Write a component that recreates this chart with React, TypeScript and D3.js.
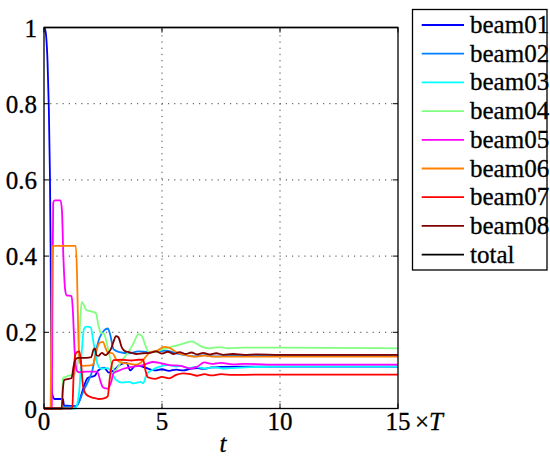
import React from "react";
import * as d3 from "d3";

type P = [number, number];

const seriesNames = ["beam01", "beam02", "beam03", "beam04", "beam05", "beam06", "beam07", "beam08", "total"];
const seriesColors = ["#0000ff", "#0080ff", "#00ffff", "#80ff80", "#ff00ff", "#ff8000", "#ff0000", "#800000", "#000000"];

const xTicks = [0, 5, 10, 15];
const yTicks = [0, 0.2, 0.4, 0.6, 0.8, 1];
const yTickLabels = ["0", "0.2", "0.4", "0.6", "0.8", "1"];

const beam01: P[] = [[0,1],[0.05,0.995],[0.1,0.97],[0.15,0.91],[0.2,0.8],[0.25,0.62],[0.28,0.42],[0.3,0.2],[0.32,0.07],[0.36,0.035],[0.45,0.025],[0.8,0.025],[0.85,0.008],[1.35,0.006],[1.5,0.02],[1.65,0.05],[1.85,0.08],[2.15,0.086],[2.3,0.1],[2.55,0.107],[2.75,0.094],[2.95,0.1],[3.2,0.114],[3.5,0.12],[3.65,0.1],[3.9,0.114],[4.3,0.107],[4.7,0.1],[5.0,0.103],[5.3,0.099],[5.6,0.102],[5.9,0.1],[6.2,0.104],[6.5,0.106],[6.8,0.104],[7.1,0.108],[7.5,0.109],[8.5,0.11],[10,0.11],[12,0.11],[15,0.11]];
const beam02: P[] = [[0,0],[0.8,0],[0.85,0.005],[1.35,0.005],[1.5,0.02],[1.7,0.05],[1.9,0.075],[2.05,0.1],[2.2,0.15],[2.35,0.185],[2.55,0.205],[2.7,0.21],[2.8,0.195],[2.95,0.155],[3.2,0.148],[3.6,0.145],[4.0,0.15],[4.4,0.148],[4.8,0.15],[5.2,0.152],[5.6,0.145],[6,0.14],[6.4,0.137],[6.8,0.14],[7.2,0.137],[8,0.138],[10,0.138],[15,0.138]];
const beam03: P[] = [[0,0],[1.3,0],[1.4,0.01],[1.5,0.05],[1.6,0.15],[1.7,0.21],[1.8,0.215],[1.98,0.213],[2.08,0.18],[2.16,0.15],[2.25,0.12],[2.4,0.105],[2.7,0.106],[2.9,0.09],[3.05,0.075],[3.3,0.068],[3.6,0.07],[3.8,0.066],[4.1,0.07],[4.2,0.066],[4.35,0.09],[4.55,0.1],[4.9,0.11],[5.3,0.114],[5.6,0.11],[5.8,0.112],[6.1,0.106],[6.4,0.109],[6.8,0.105],[7.2,0.108],[7.6,0.105],[8.5,0.108],[10,0.11],[15,0.11]];
const beam04: P[] = [[0,0],[0.75,0],[0.8,0.08],[1.0,0.085],[1.3,0.09],[1.45,0.13],[1.55,0.25],[1.6,0.28],[1.7,0.27],[1.8,0.258],[2.0,0.255],[2.2,0.25],[2.3,0.22],[2.4,0.2],[2.55,0.195],[2.7,0.16],[2.85,0.12],[3.0,0.098],[3.15,0.11],[3.35,0.13],[3.6,0.15],[3.8,0.172],[4.0,0.195],[4.15,0.19],[4.3,0.165],[4.45,0.148],[4.7,0.148],[5.0,0.155],[5.3,0.16],[5.8,0.168],[6.25,0.176],[6.7,0.162],[7.0,0.158],[7.4,0.161],[7.8,0.158],[8.5,0.16],[10,0.16],[15,0.158]];
const beam05: P[] = [[0,0],[0.33,0],[0.36,0.3],[0.39,0.54],[0.45,0.546],[0.7,0.546],[0.76,0.52],[0.82,0.4],[0.9,0.31],[0.96,0.297],[1.17,0.295],[1.22,0.26],[1.3,0.15],[1.38,0.1],[1.5,0.095],[1.8,0.097],[2.25,0.097],[2.4,0.07],[2.5,0.055],[2.7,0.052],[2.85,0.07],[2.95,0.093],[3.2,0.1],[3.4,0.105],[3.8,0.11],[4.2,0.114],[4.6,0.122],[4.9,0.12],[5.3,0.114],[5.8,0.112],[6.2,0.105],[6.5,0.11],[6.8,0.121],[7.1,0.117],[7.5,0.12],[8.0,0.116],[8.5,0.117],[10,0.115],[15,0.115]];
const beam06: P[] = [[0,0],[0.28,0],[0.31,0.2],[0.34,0.41],[0.38,0.427],[1.35,0.427],[1.4,0.35],[1.45,0.2],[1.52,0.12],[1.65,0.112],[2.0,0.113],[2.1,0.118],[2.2,0.145],[2.35,0.172],[2.5,0.175],[2.6,0.16],[2.7,0.147],[2.9,0.145],[3.05,0.13],[3.3,0.12],[3.6,0.118],[3.9,0.115],[4.1,0.12],[4.3,0.135],[4.5,0.148],[4.8,0.152],[5.1,0.162],[5.3,0.16],[5.6,0.148],[6.0,0.14],[6.4,0.136],[6.8,0.139],[7.2,0.136],[8.5,0.136],[10,0.136],[15,0.136]];
const beam07: P[] = [[0,0],[1.2,0],[1.25,0.08],[1.32,0.14],[1.4,0.148],[1.5,0.15],[1.57,0.12],[1.65,0.06],[1.75,0.04],[1.9,0.032],[2.1,0.028],[2.3,0.025],[2.5,0.026],[2.7,0.032],[2.78,0.075],[2.87,0.115],[2.95,0.127],[3.3,0.128],[3.7,0.126],[4.0,0.128],[4.2,0.128],[4.3,0.1],[4.4,0.082],[4.7,0.078],[5.0,0.083],[5.3,0.079],[5.6,0.088],[5.9,0.092],[6.2,0.09],[6.5,0.086],[6.8,0.09],[7.1,0.087],[7.5,0.09],[8,0.088],[9,0.089],[10,0.089],[15,0.089]];
const beam08: P[] = [[0,0],[0.75,0],[0.8,0.05],[0.86,0.075],[1.0,0.077],[1.17,0.08],[1.25,0.11],[1.35,0.13],[1.45,0.133],[1.8,0.133],[2.0,0.135],[2.1,0.155],[2.16,0.158],[2.22,0.14],[2.3,0.138],[2.45,0.146],[2.6,0.14],[2.75,0.148],[2.85,0.158],[2.95,0.176],[3.05,0.19],[3.15,0.187],[3.3,0.16],[3.45,0.15],[3.6,0.148],[3.9,0.143],[4.2,0.145],[4.5,0.146],[4.75,0.15],[5.0,0.144],[5.25,0.149],[5.5,0.143],[5.75,0.148],[6.0,0.143],[6.25,0.147],[6.5,0.142],[6.75,0.146],[7.0,0.142],[7.3,0.145],[7.6,0.141],[8.0,0.143],[8.5,0.141],[9,0.142],[10,0.141],[15,0.141]];
const total: P[] = [[0,1],[15,1]];

const allSeries = [beam01, beam02, beam03, beam04, beam05, beam06, beam07, beam08, total];

export default function App() {
  const W = 550, H = 458;
  const x = d3.scaleLinear().domain([0, 15]).range([44, 398]);
  const y = d3.scaleLinear().domain([0, 1]).range([408.5, 27.5]);
  const line = d3.line<P>().x(d => x(d[0])).y(d => y(d[1])).curve(d3.curveMonotoneX);
  const tf: React.CSSProperties = { fontFamily: "Liberation Serif, Times New Roman, serif", fontSize: "25px" };
  const [x0, x1] = x.range();
  const [y0, y1] = y.range();
  const tl = 5;
  const legX = 412.5, legY = 9.5, legW = 134.5, legH = 260.5;
  const rowH = 28.7;
  const ts = { fill: "#000", stroke: "#000", strokeWidth: 0.3 };
  return (
    <div style={{ position: "fixed", left: 0, top: 0 }}>
      <svg width={W} height={H} style={{ display: "block", background: "#fff" }}>
        {xTicks.filter(t => t > 0 && t < 15).map(t => (
          <line key={"gx" + t} x1={x(t)} x2={x(t)} y1={y0} y2={y1} stroke="#444" strokeWidth={1} strokeDasharray="1.2,5" />
        ))}
        {yTicks.filter(t => t > 0 && t < 1).map(t => (
          <line key={"gy" + t} x1={x0} x2={x1} y1={y(t)} y2={y(t)} stroke="#444" strokeWidth={1} strokeDasharray="1.2,5" />
        ))}
        {allSeries.map((s, i) => (
          <path key={seriesNames[i]} d={line(s) || ""} fill="none" stroke={seriesColors[i]} strokeWidth={i === 8 ? 1.4 : 1.8} strokeLinejoin="round" />
        ))}
        <rect x={x0} y={y1} width={x1 - x0} height={y0 - y1} fill="none" stroke="#000" strokeWidth={1.3} />
        {xTicks.map(t => (
          <g key={"tx" + t}>
            <line x1={x(t)} x2={x(t)} y1={y0} y2={y0 - tl} stroke="#000" strokeWidth={1} />
            <line x1={x(t)} x2={x(t)} y1={y1} y2={y1 + tl} stroke="#000" strokeWidth={1} />
            <text x={x(t)} y={430} textAnchor="middle" style={tf} {...ts}>{t}</text>
          </g>
        ))}
        {yTicks.map((t, i) => (
          <g key={"ty" + t}>
            <line x1={x0} x2={x0 + tl} y1={y(t)} y2={y(t)} stroke="#000" strokeWidth={1} />
            <line x1={x1} x2={x1 - tl} y1={y(t)} y2={y(t)} stroke="#000" strokeWidth={1} />
            <text x={37} y={y(t) + 9} textAnchor="end" style={tf} {...ts}>{yTickLabels[i]}</text>
          </g>
        ))}
        <text x={415} y={430} style={tf} {...ts}>×<tspan fontStyle="italic">T</tspan></text>
        <text x={223} y={452} textAnchor="middle" style={{ ...tf, fontStyle: "italic" }} {...ts}>t</text>
        <rect x={legX} y={legY} width={legW} height={legH} fill="#fff" stroke="#000" strokeWidth={1.3} />
        {seriesNames.map((n, i) => {
          const cy = 25 + i * rowH;
          return (
            <g key={"lg" + n}>
              <line x1={421.7} x2={464} y1={cy} y2={cy} stroke={seriesColors[i]} strokeWidth={1.8} />
              <text x={470} y={cy + 8} style={tf} {...ts}>{n}</text>
            </g>
          );
        })}
      </svg>
    </div>
  );
}
